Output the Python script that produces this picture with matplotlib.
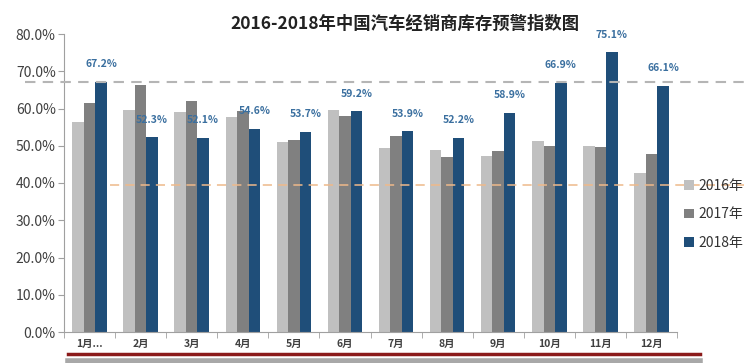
import numpy as np
import matplotlib
matplotlib.use('Agg')
import matplotlib.pyplot as plt
from matplotlib.lines import Line2D

plt.rcParams['font.family'] = ['Noto Sans CJK SC', 'DejaVu Sans']

# data (percent)
months = ['1月...', '2月', '3月', '4月', '5月', '6月', '7月', '8月', '9月', '10月', '11月', '12月']
v2016 = [56.5, 59.6, 59.0, 57.8, 51.0, 59.6, 49.4, 48.9, 47.2, 51.4, 49.9, 42.8]
v2017 = [61.4, 66.4, 61.9, 59.2, 51.6, 58.1, 52.5, 47.0, 48.7, 49.9, 49.6, 47.7]
v2018 = [67.2, 52.3, 52.1, 54.6, 53.7, 59.2, 53.9, 52.2, 58.9, 66.9, 75.1, 66.1]
series = ['2016年', '2017年', '2018年']
warn_high = 67.2
warn_low = 39.5

colors = ['#c0c0c0', '#808080', '#1f4e79']

fig = plt.figure(figsize=(7.44, 3.63), dpi=100)
ax = fig.add_axes([64/744, 31/363, 613/744, 298/363])

x = np.arange(len(months))
w = 0.225
for i, (vals, lab) in enumerate(zip([v2016, v2017, v2018], series)):
    ax.bar(x + (i - 1) * w, vals, width=w, color=colors[i], label=lab, zorder=2)

# labels on the 2018 bars
for xi, v in zip(x, v2018):
    ax.annotate(f'{v:.1f}%', (xi + w, v), xytext=(0, 9), textcoords='offset points',
                ha='center', va='bottom', fontsize=7.5, fontweight='bold', color='#3a6f9f')

# warning lines running past the axes
ax.axhline(warn_high, xmin=-0.064, xmax=1.11, color='#b5b5b5', lw=1.5,
           dashes=(5, 3.5), clip_on=False, zorder=3)
ax.axhline(warn_low, xmin=0.075, xmax=1.11, color='#eeb98a', lw=1.1,
           dashes=(6, 4), clip_on=False, zorder=3)

ax.set_xlim(-0.5, 11.5)
ax.set_ylim(0, 80)
ax.set_yticks(np.arange(0, 81, 10))
ax.set_yticklabels([f'{t:.1f}%' for t in np.arange(0, 81, 10)], fontsize=10, color='#404040')
ax.set_xticks(x)
ax.set_xticklabels(months, fontsize=7.5, fontweight='bold', color='#404040')
ax.set_xticks(np.arange(-0.5, 12, 1), minor=True)
ax.tick_params(axis='x', which='major', length=0, pad=5)
ax.tick_params(axis='x', which='minor', length=4, color='#a0a0a0')
ax.tick_params(axis='y', length=4, color='#a0a0a0', pad=2)

for s in ['top', 'right']:
    ax.spines[s].set_visible(False)
for s in ['left', 'bottom']:
    ax.spines[s].set_color('#a0a0a0')

ax.legend(loc='center left', bbox_to_anchor=(1.003, 0.395), frameon=False, fontsize=10,
          handlelength=0.7, handleheight=0.7, handletextpad=0.3, labelspacing=1.05,
          labelcolor='#333333', borderaxespad=0)

fig.suptitle('2016-2018年中国汽车经销商库存预警指数图', x=405/744, y=0.96,
             fontsize=12.5, fontweight='bold', color='#222222')

# decorative rules under the chart
fig.add_artist(Line2D([68/744, 700/744], [1 - 354/363, 1 - 354/363], color='#8b1a1a', lw=2.5))
fig.add_artist(Line2D([68/744, 700/744], [1 - 361/363, 1 - 361/363], color='#a8a8a8', lw=4))

fig.savefig('out.png', dpi=100)
